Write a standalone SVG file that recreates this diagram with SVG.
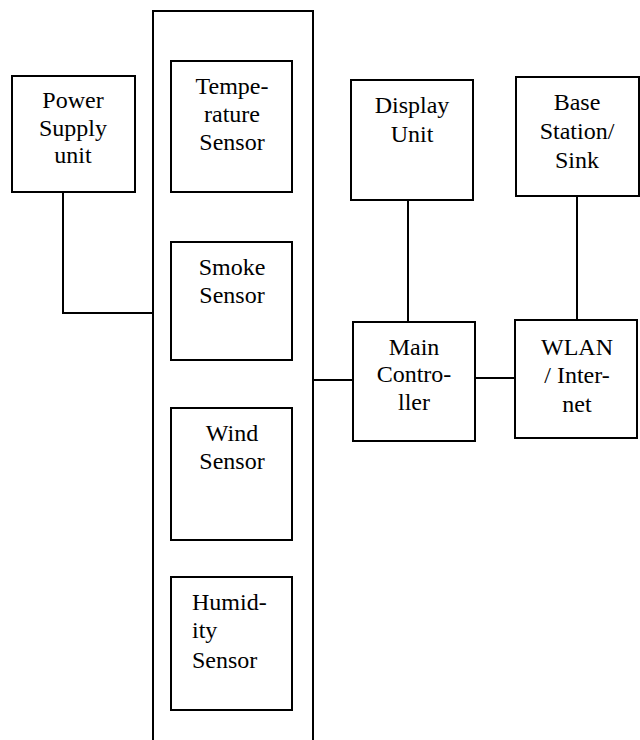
<svg xmlns="http://www.w3.org/2000/svg" width="640" height="740" viewBox="0 0 640 740">
  <style>
    .box { fill: #fff; stroke: #000; stroke-width: 2; }
    .wire { fill: none; stroke: #000; stroke-width: 2; }
    .c { text-anchor: middle; }
  </style>
  <rect width="640" height="740" fill="#fff"/>

  <!-- sensor housing -->
  <g id="sensor-housing">
    <rect class="box" x="153" y="11" width="160" height="760"/>
  </g>

  <g id="connectors">
    <polyline class="wire" points="63,192 63,313 153,313"/>
    <line class="wire" x1="313" y1="380" x2="354" y2="380"/>
    <line class="wire" x1="408" y1="200" x2="408" y2="322"/>
    <line class="wire" x1="577" y1="196" x2="577" y2="320"/>
    <line class="wire" x1="475" y1="378" x2="515" y2="378"/>
  </g>

  <g font-family="'Times New Roman', 'Liberation Serif', 'DejaVu Serif', serif" font-size="24" fill="#000">
  <g id="power-supply">
    <rect class="box" x="12" y="76" width="123" height="116"/>
    <text class="c" x="73" y="108">Power</text>
    <text class="c" x="73" y="136">Supply</text>
    <text class="c" x="73" y="163">unit</text>
  </g>

  <g id="temperature-sensor">
    <rect class="box" x="171" y="61" width="121" height="131"/>
    <text class="c" x="232" y="94">Tempe-</text>
    <text class="c" x="232" y="122">rature</text>
    <text class="c" x="232" y="150">Sensor</text>
  </g>

  <g id="smoke-sensor">
    <rect class="box" x="171" y="242" width="121" height="118"/>
    <text class="c" x="232" y="275">Smoke</text>
    <text class="c" x="232" y="303">Sensor</text>
  </g>

  <g id="wind-sensor">
    <rect class="box" x="171" y="408" width="121" height="132"/>
    <text class="c" x="232" y="441">Wind</text>
    <text class="c" x="232" y="469">Sensor</text>
  </g>

  <g id="humidity-sensor">
    <rect class="box" x="171" y="577" width="121" height="133"/>
    <text x="192" y="610">Humid-</text>
    <text x="192" y="638">ity</text>
    <text x="192" y="668">Sensor</text>
  </g>

  <g id="display-unit">
    <rect class="box" x="351" y="80" width="122" height="120"/>
    <text class="c" x="412" y="113">Display</text>
    <text class="c" x="412" y="142">Unit</text>
  </g>

  <g id="base-station">
    <rect class="box" x="516" y="77" width="123" height="119"/>
    <text class="c" x="577" y="110">Base</text>
    <text class="c" x="577" y="139">Station/</text>
    <text class="c" x="577" y="168">Sink</text>
  </g>

  <g id="main-controller">
    <rect class="box" x="353" y="322" width="122" height="119"/>
    <text class="c" x="414" y="355">Main</text>
    <text class="c" x="414" y="382">Contro-</text>
    <text class="c" x="414" y="410">ller</text>
  </g>

  <g id="wlan">
    <rect class="box" x="515" y="320" width="122" height="118"/>
    <text class="c" x="577" y="355">WLAN</text>
    <text class="c" x="577" y="383">/ Inter-</text>
    <text class="c" x="577" y="412">net</text>
  </g>
  </g>
</svg>
